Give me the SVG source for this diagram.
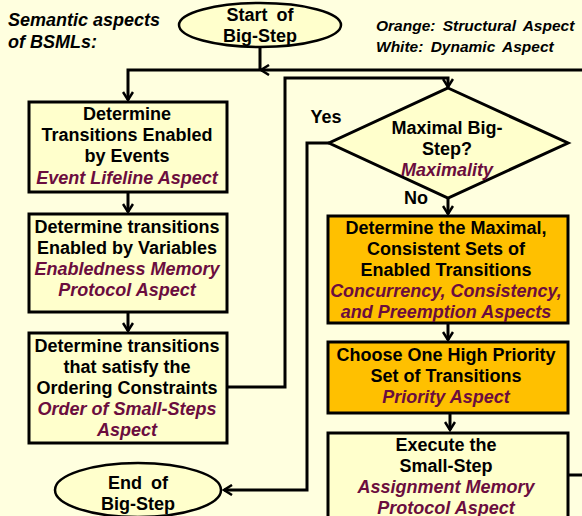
<svg xmlns="http://www.w3.org/2000/svg" width="582" height="516" viewBox="0 0 582 516">
<defs>
<style>
.bg{fill:#FFFFDF}
.n{fill:#FFFFCC;stroke:#000;stroke-width:3}
.o{fill:#FFC000;stroke:#000;stroke-width:3}
.e{fill:#FFFFCC;stroke:#000;stroke-width:2.5}
.t{font-family:"Liberation Sans",Arial,sans-serif;font-weight:bold;font-size:18px;fill:#000;text-anchor:middle}
.a{font-family:"Liberation Sans",Arial,sans-serif;font-weight:bold;font-style:italic;font-size:18px;fill:#6B0D3E;text-anchor:middle}
.h{font-family:"Liberation Sans",Arial,sans-serif;font-weight:bold;font-style:italic;font-size:18px;fill:#000}
.l{font-family:"Liberation Sans",Arial,sans-serif;font-weight:bold;font-style:italic;font-size:15.5px;fill:#000;word-spacing:3px}
.c{fill:none;stroke:#000;stroke-width:3}
</style>
<marker id="ah" markerWidth="12" markerHeight="12" refX="10" refY="6" orient="auto" markerUnits="userSpaceOnUse"><path d="M2,1 L10,6 L2,11" fill="none" stroke="#000" stroke-width="2.5"/></marker>
</defs>
<rect class="bg" x="0" y="0" width="582" height="516"/>
<g id="title">
<text class="h" x="8" y="26">Semantic aspects</text>
<text class="h" x="8" y="48">of BSMLs:</text>
</g>
<g id="legend">
<text class="l" x="376" y="31">Orange: Structural Aspect</text>
<text class="l" x="376" y="52">White: Dynamic Aspect</text>
</g>
<g id="connectors">
<path class="c" d="M582,70 L261,70" marker-end="url(#ah)"/>
<path class="c" d="M260,47 L260,70 L128,70 L128,100" marker-end="url(#ah)"/>
<path class="c" d="M128,192 L128,212" marker-end="url(#ah)"/>
<path class="c" d="M128,312 L128,331" marker-end="url(#ah)"/>
<path class="c" d="M227,387 L285,387 L285,78 L448,78 L448,87" marker-end="url(#ah)"/>
<path class="c" d="M329,143 L307,143 L307,490 L224,490" marker-end="url(#ah)"/>
<path class="c" d="M448,198 L448,214" marker-end="url(#ah)"/>
<path class="c" d="M448,323 L448,340" marker-end="url(#ah)"/>
<path class="c" d="M450,413 L450,430" marker-end="url(#ah)"/>
<path class="c" d="M568,475 L582,475"/>
</g>
<g id="start">
<ellipse class="e" cx="260" cy="25" rx="81" ry="22"/>
<text class="t" x="260" y="21" style="word-spacing:4px">Start of</text>
<text class="t" x="260" y="42">Big-Step</text>
</g>
<g id="events">
<rect class="n" x="29" y="102" width="198" height="90"/>
<text class="t" x="127" y="120">Determine</text>
<text class="t" x="127" y="141">Transitions Enabled</text>
<text class="t" x="127" y="162">by Events</text>
<text class="a" x="127" y="184">Event Lifeline Aspect</text>
</g>
<g id="variables">
<rect class="n" x="29" y="214" width="198" height="98"/>
<text class="t" x="127" y="233">Determine transitions</text>
<text class="t" x="127" y="254">Enabled by Variables</text>
<text class="a" x="127" y="275">Enabledness Memory</text>
<text class="a" x="127" y="296">Protocol Aspect</text>
</g>
<g id="ordering">
<rect class="n" x="29" y="333" width="198" height="110"/>
<text class="t" x="127" y="352">Determine transitions</text>
<text class="t" x="127" y="373">that satisfy the</text>
<text class="t" x="127" y="394">Ordering Constraints</text>
<text class="a" x="127" y="415">Order of Small-Steps</text>
<text class="a" x="127" y="436">Aspect</text>
</g>
<g id="end">
<ellipse class="e" cx="138" cy="490" rx="83" ry="27"/>
<text class="t" x="138" y="489" style="word-spacing:4px">End of</text>
<text class="t" x="138" y="510">Big-Step</text>
</g>
<g id="maximal">
<polygon class="n" points="448,88 568,143 448,198 329,143"/>
<text class="t" x="447" y="134">Maximal Big-</text>
<text class="t" x="447" y="155">Step?</text>
<text class="a" x="447" y="176">Maximality</text>
</g>
<g id="labels">
<text class="t" x="326" y="123">Yes</text>
<text class="t" x="416" y="204">No</text>
</g>
<g id="sets">
<rect class="o" x="328" y="216" width="240" height="107"/>
<text class="t" x="446" y="234">Determine the Maximal,</text>
<text class="t" x="446" y="255">Consistent Sets of</text>
<text class="t" x="446" y="276">Enabled Transitions</text>
<text class="a" x="446" y="297">Concurrency, Consistency,</text>
<text class="a" x="446" y="318">and Preemption Aspects</text>
</g>
<g id="priority">
<rect class="o" x="328" y="342" width="240" height="71"/>
<text class="t" x="446" y="361">Choose One High Priority</text>
<text class="t" x="446" y="382">Set of Transitions</text>
<text class="a" x="446" y="403">Priority Aspect</text>
</g>
<g id="execute">
<rect class="n" x="328" y="433" width="240" height="100"/>
<text class="t" x="446" y="451">Execute the</text>
<text class="t" x="446" y="472">Small-Step</text>
<text class="a" x="446" y="493">Assignment Memory</text>
<text class="a" x="446" y="514">Protocol Aspect</text>
</g>
</svg>
